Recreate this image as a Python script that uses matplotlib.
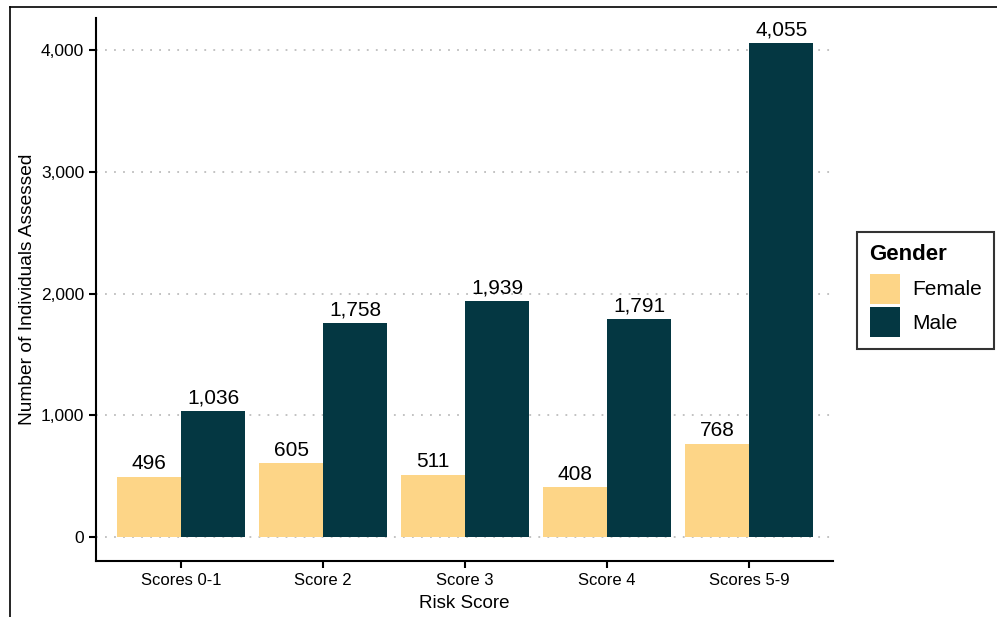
import numpy as np
import matplotlib
matplotlib.use("Agg")
import matplotlib.pyplot as plt
from matplotlib.lines import Line2D
from matplotlib.ticker import FuncFormatter

plt.rcParams['font.family'] = ['Liberation Sans', 'DejaVu Sans']

categories = ["Scores 0-1", "Score 2", "Score 3", "Score 4", "Scores 5-9"]
female = [496, 605, 511, 408, 768]
male = [1036, 1758, 1939, 1791, 4055]

col_f = "#FDD587"
col_m = "#043742"

fig = plt.figure(figsize=(9.97, 6.17), dpi=100)
ax = fig.add_axes([96 / 997, 1 - 561 / 617, (833 - 96) / 997, (561 - 18) / 617])

x = np.arange(len(categories))
w = 0.45
bf = ax.bar(x - w / 2, female, w, color=col_f, label="Female", zorder=3)
bm = ax.bar(x + w / 2, male, w, color=col_m, label="Male", zorder=3)

for bars, vals in ((bf, female), (bm, male)):
    for b, v in zip(bars, vals):
        ax.text(b.get_x() + b.get_width() / 2, v + 30, f"{v:,}",
                ha="center", va="bottom", fontsize=15, color="black")

ax.set_xlim(-0.6, 4.59)
ax.set_ylim(-197, 4263)
ax.set_yticks([0, 1000, 2000, 3000, 4000])
ax.yaxis.set_major_formatter(FuncFormatter(lambda v, p: f"{int(v):,}"))
ax.set_xticks(x)
ax.set_xticklabels(categories)
ax.grid(axis="y", linestyle=(0, (1, 4)), color="#BDBDBD", linewidth=1.3, zorder=0)

for s in ("top", "right"):
    ax.spines[s].set_visible(False)
for s in ("left", "bottom"):
    ax.spines[s].set_linewidth(1.5)
ax.tick_params(axis="both", labelsize=12.5, width=1.5, length=5, color="black")
ax.tick_params(axis="x", labelsize=12)

ax.set_xlabel("Risk Score", fontsize=13.5, labelpad=5)
ax.set_ylabel("Number of Individuals Assessed", fontsize=13.8)
ax.yaxis.set_label_coords((36 - 96) / 737, 0.5)

leg = ax.legend(title="Gender", loc="center left", bbox_to_anchor=(1.0326, 0.498),
                borderaxespad=0, fontsize=15, title_fontsize=16, frameon=True,
                fancybox=False, edgecolor="black", handlelength=1.44,
                handleheight=1.84, borderpad=0.6, labelspacing=0.15,
                handletextpad=0.6)
leg.get_frame().set_linewidth(1.5)
leg._legend_box.align = "left"
leg._legend_box.sep = 6
leg.get_title().set_fontweight("bold")

# frame lines at top and left of the image
fig.add_artist(Line2D([10 / 997, 1], [1 - 7 / 617, 1 - 7 / 617], color="black", linewidth=1.2))
fig.add_artist(Line2D([10 / 997, 10 / 997], [0, 1 - 7 / 617], color="black", linewidth=1.2))

fig.savefig("out.png", dpi=100, facecolor="white")
